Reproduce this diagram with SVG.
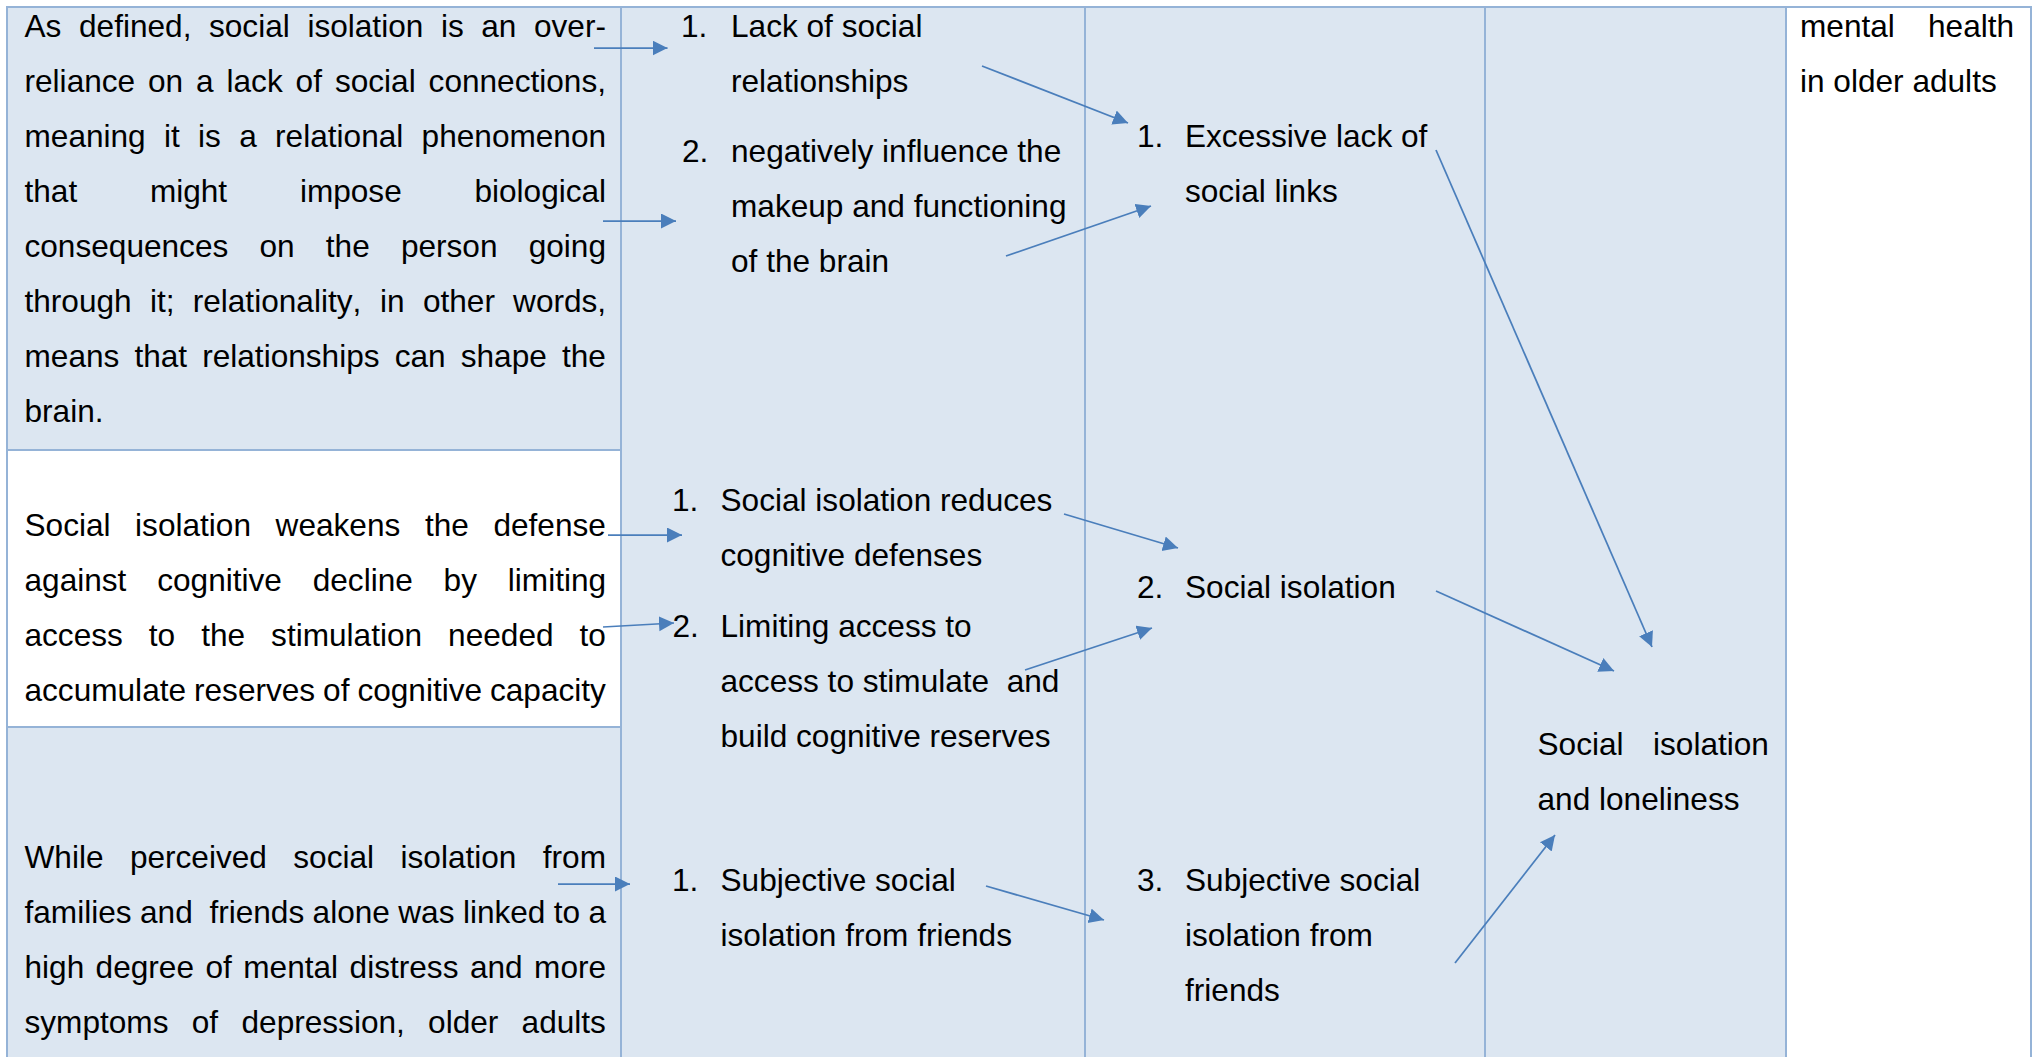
<svg xmlns="http://www.w3.org/2000/svg" width="2040" height="1057" viewBox="0 0 2040 1057">
<style>
  text { font-family: "Liberation Sans", Arial, sans-serif; font-size: 31.6px; fill: #000; font-kerning: none; }
  .cell { fill: #DCE6F1; }
  .white { fill: #FFFFFF; }
  .grid { stroke: #95B3D7; stroke-width: 2; fill: none; }
  .arrow { stroke: #4A7EBB; stroke-width: 1.75; fill: none; marker-end: url(#ah); }
</style>
<defs>
  <marker id="ah" markerUnits="userSpaceOnUse" markerWidth="16" markerHeight="16" refX="15" refY="7.5" orient="auto">
    <path d="M0,0 L15,7.5 L0,15 Z" fill="#4A7EBB"/>
  </marker>
</defs>
<rect x="0" y="0" width="2040" height="1057" fill="#FFFFFF"/>

<g id="table">
  <rect class="cell" x="7" y="7" width="1779" height="1060"/>
  <rect class="white" x="7" y="450" width="614" height="277"/>
  <rect class="white" x="1786" y="7" width="245" height="1060"/>
  <path class="grid" d="M7,1067 V7 H2031 V1067 M621,7 V1067 M1085,7 V1067 M1485,7 V1067 M1786,7 V1067 M7,450 H621 M7,727 H621"/>
</g>

<g id="node-definition">
  <text><tspan x="24.5" y="36.5">As</tspan><tspan x="79">defined,</tspan><tspan x="209">social</tspan><tspan x="307.4">isolation</tspan><tspan x="440.9">is</tspan><tspan x="481.3">an</tspan><tspan x="534">over-</tspan></text>
  <text><tspan x="24.5" y="91.5">reliance</tspan><tspan x="148">on</tspan><tspan x="196">a</tspan><tspan x="226.5">lack</tspan><tspan x="295.6">of</tspan><tspan x="334.9">social</tspan><tspan x="428.6">connections,</tspan></text>
  <text><tspan x="24.5" y="146.5">meaning</tspan><tspan x="164">it</tspan><tspan x="198.1">is</tspan><tspan x="239.2">a</tspan><tspan x="275.1">relational</tspan><tspan x="421.6">phenomenon</tspan></text>
  <text><tspan x="24.5" y="201.5">that</tspan><tspan x="149.9">might</tspan><tspan x="299.9">impose</tspan><tspan x="474.4">biological</tspan></text>
  <text><tspan x="24.5" y="256.5">consequences</tspan><tspan x="259.5">on</tspan><tspan x="325.8">the</tspan><tspan x="400.9">person</tspan><tspan x="528.7">going</tspan></text>
  <text><tspan x="24.5" y="311.5">through</tspan><tspan x="149.9">it;</tspan><tspan x="192.7">relationality,</tspan><tspan x="380.1">in</tspan><tspan x="422.9">other</tspan><tspan x="513.1">words,</tspan></text>
  <text><tspan x="24.5" y="366.5">means</tspan><tspan x="134.4">that</tspan><tspan x="202.2">relationships</tspan><tspan x="394.7">can</tspan><tspan x="460.7">shape</tspan><tspan x="561.9">the</tspan></text>
  <text x="24.5" y="421.5">brain.</text>
</g>

<g id="node-weakens">
  <text><tspan x="24.5" y="535.5">Social</tspan><tspan x="135.1">isolation</tspan><tspan x="275.6">weakens</tspan><tspan x="424.9">the</tspan><tspan x="493.4">defense</tspan></text>
  <text><tspan x="24.5" y="590.5">against</tspan><tspan x="157.2">cognitive</tspan><tspan x="312.7">decline</tspan><tspan x="443.6">by</tspan><tspan x="507.8">limiting</tspan></text>
  <text><tspan x="24.5" y="645.5">access</tspan><tspan x="148.8">to</tspan><tspan x="201.2">the</tspan><tspan x="271.1">stimulation</tspan><tspan x="448.1">needed</tspan><tspan x="579.5">to</tspan></text>
  <text><tspan x="24.5" y="700.5">accumulate</tspan><tspan x="194">reserves</tspan><tspan x="323.1">of</tspan><tspan x="357.4">cognitive</tspan><tspan x="490">capacity</tspan></text>
</g>

<g id="node-perceived">
  <text><tspan x="24.5" y="867.5">While</tspan><tspan x="129.9">perceived</tspan><tspan x="293.3">social</tspan><tspan x="400.5">isolation</tspan><tspan x="542.8">from</tspan></text>
  <text><tspan x="24.5" y="922.5">families</tspan><tspan x="140">and</tspan><tspan x="209.4">friends</tspan><tspan x="312.6">alone</tspan><tspan x="398.3">was</tspan><tspan x="462.9">linked</tspan><tspan x="553.8">to</tspan><tspan x="588.6">a</tspan></text>
  <text><tspan x="24.5" y="977.5">high</tspan><tspan x="95.6">degree</tspan><tspan x="205.5">of</tspan><tspan x="243.3">mental</tspan><tspan x="349.6">distress</tspan><tspan x="469.9">and</tspan><tspan x="534.1">more</tspan></text>
  <text><tspan x="24.5" y="1032.5">symptoms</tspan><tspan x="191.8">of</tspan><tspan x="241.5">depression,</tspan><tspan x="428.1">older</tspan><tspan x="521.6">adults</tspan></text>
</g>

<g id="node-lack-relationships">
  <text x="681" y="36.5">1.</text>
  <text x="731" y="36.5">Lack of social</text>
  <text x="731" y="91.5">relationships</text>
</g>
<g id="node-negatively-influence">
  <text x="682" y="162">2.</text>
  <text x="731" y="162">negatively influence the</text>
  <text x="731" y="217">makeup and functioning</text>
  <text x="731" y="272">of the brain</text>
</g>
<g id="node-reduces-defenses">
  <text x="672" y="511">1.</text>
  <text x="720.5" y="511">Social isolation reduces</text>
  <text x="720.5" y="566">cognitive defenses</text>
</g>
<g id="node-limiting-access">
  <text x="672.5" y="637">2.</text>
  <text x="720.5" y="637">Limiting access to</text>
  <text x="720.5" y="692" xml:space="preserve">access to stimulate  and</text>
  <text x="720.5" y="747">build cognitive reserves</text>
</g>
<g id="node-subjective-1">
  <text x="672" y="890.5">1.</text>
  <text x="720.5" y="890.5">Subjective social</text>
  <text x="720.5" y="945.5">isolation from friends</text>
</g>

<g id="node-excessive-lack">
  <text x="1137" y="147">1.</text>
  <text x="1185" y="147">Excessive lack of</text>
  <text x="1185" y="202">social links</text>
</g>
<g id="node-social-isolation">
  <text x="1137" y="597.5">2.</text>
  <text x="1185" y="597.5">Social isolation</text>
</g>
<g id="node-subjective-3">
  <text x="1137" y="890.5">3.</text>
  <text x="1185" y="890.5">Subjective social</text>
  <text x="1185" y="945.5">isolation from</text>
  <text x="1185" y="1000.5">friends</text>
</g>

<g id="node-isolation-loneliness">
  <text><tspan x="1537.5" y="755">Social</tspan><tspan x="1653">isolation</tspan></text>
  <text x="1537.5" y="810">and loneliness</text>
</g>

<g id="node-mental-health">
  <text><tspan x="1800" y="36.5">mental</tspan><tspan x="1928">health</tspan></text>
  <text x="1800" y="91.5">in older adults</text>
</g>

<g id="connectors">
  <line class="arrow" x1="594" y1="48" x2="667.5" y2="48"/>
  <line class="arrow" x1="603" y1="221" x2="676" y2="221"/>
  <line class="arrow" x1="982" y1="66" x2="1128" y2="123"/>
  <line class="arrow" x1="1006" y1="256" x2="1151" y2="206"/>
  <line class="arrow" x1="1436" y1="150" x2="1652" y2="647"/>
  <line class="arrow" x1="608" y1="535" x2="682" y2="535"/>
  <line class="arrow" x1="603" y1="627" x2="674" y2="623"/>
  <line class="arrow" x1="558" y1="884" x2="630" y2="884"/>
  <line class="arrow" x1="1064" y1="514" x2="1178" y2="548"/>
  <line class="arrow" x1="1025" y1="670" x2="1152" y2="628"/>
  <line class="arrow" x1="986" y1="886" x2="1104" y2="920"/>
  <line class="arrow" x1="1436" y1="591" x2="1614" y2="671"/>
  <line class="arrow" x1="1455" y1="963" x2="1555" y2="835"/>
</g>
</svg>
